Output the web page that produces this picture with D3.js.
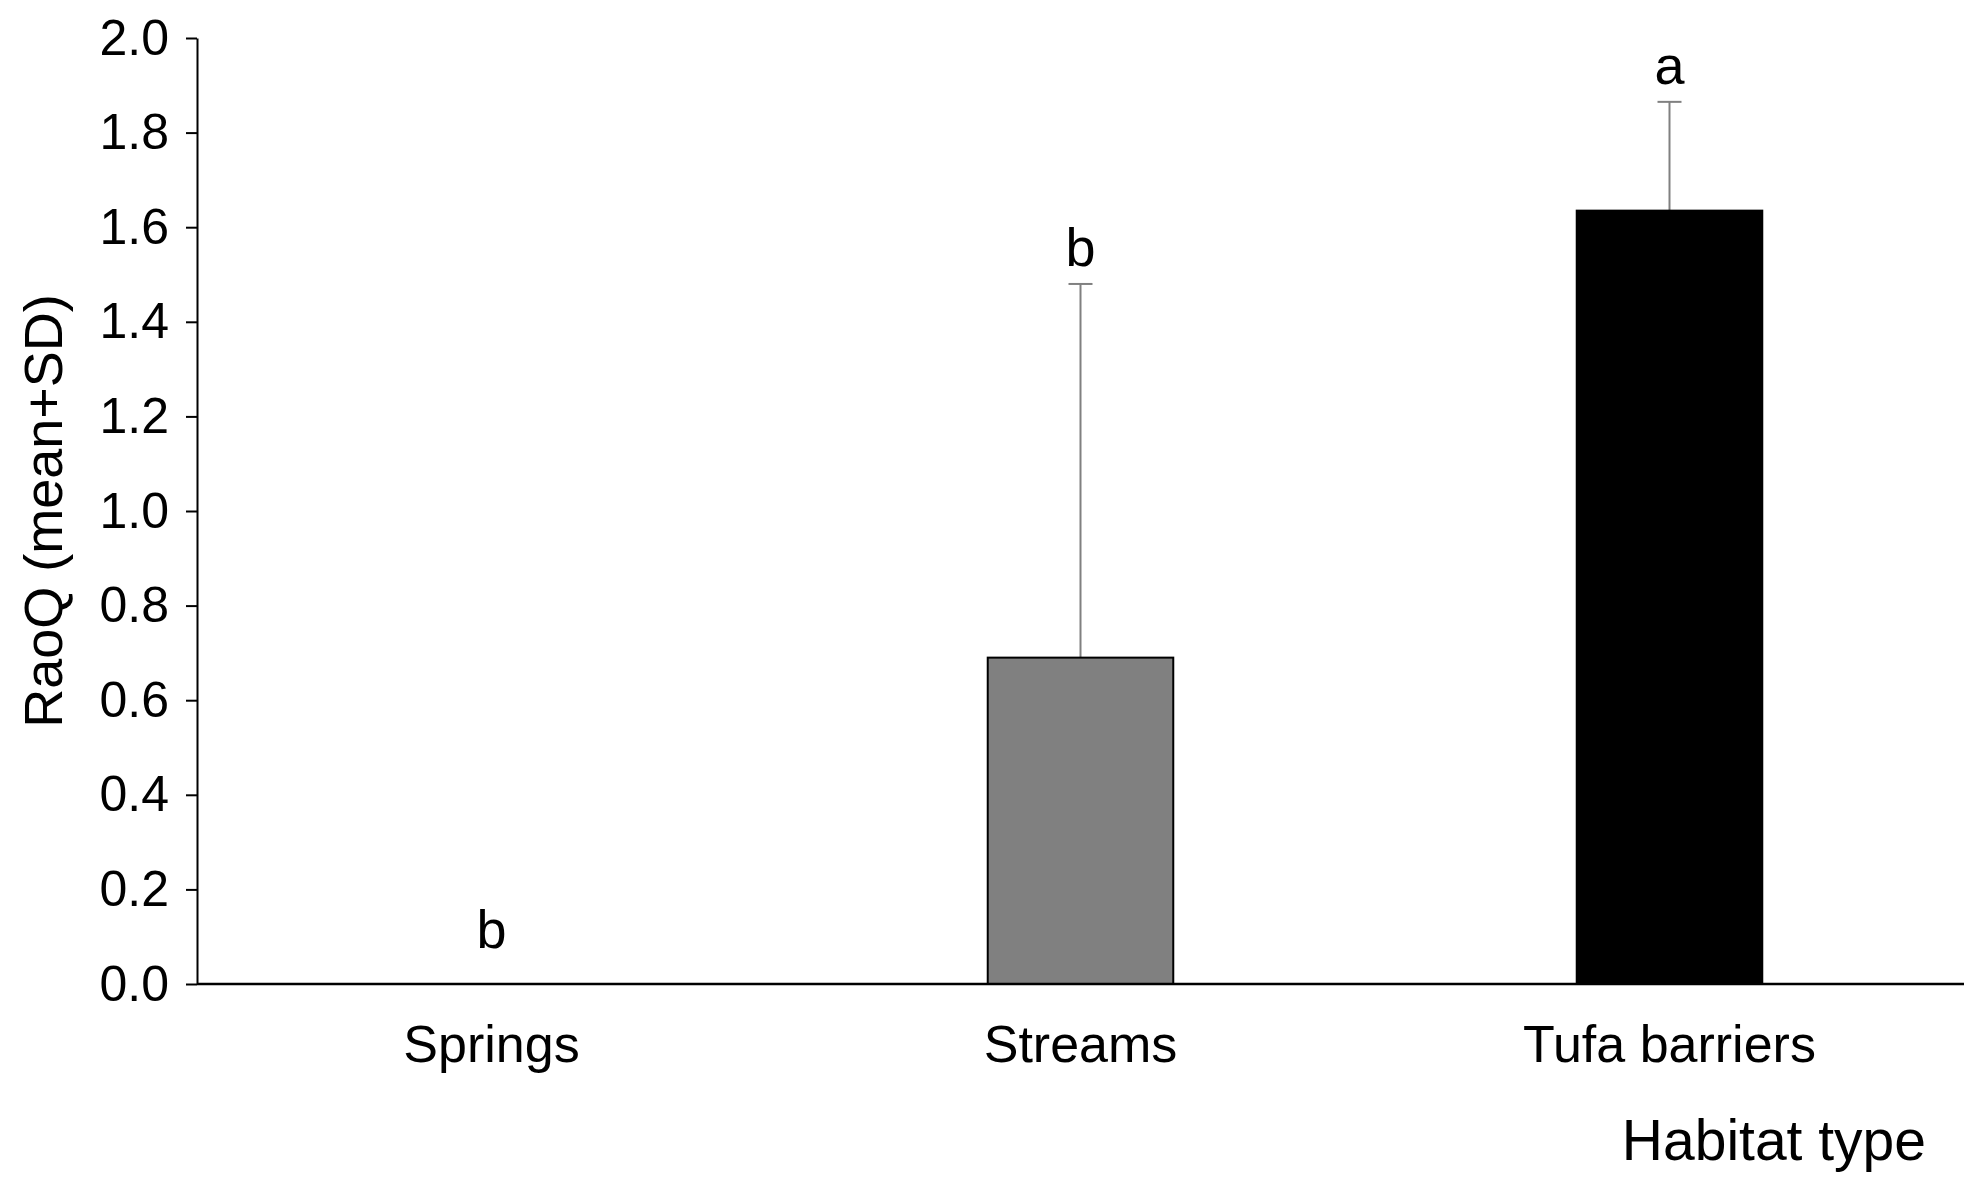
<!DOCTYPE html><html><head><meta charset="utf-8"><script src="https://cdn.jsdelivr.net/npm/d3@7"></script>
<style>body{margin:0;background:#fff}text{font-family:Arial,"Liberation Sans",sans-serif}</style></head><body>
<svg id="c" width="1983" height="1199"></svg>
<script>
const categories=["Springs","Streams","Tufa barriers"];
const means=[0,0.69,1.635];
const sds=[0,0.79,0.23];
const letters=["b","b","a"];
const colors=["#ffffff","#808080","#000000"];
const yTicks=[0,0.2,0.4,0.6,0.8,1.0,1.2,1.4,1.6,1.8,2.0];
const svg=d3.select("#c");
const L=197,R=1964,T=38,B=984;
const x=d3.scaleBand().domain(categories).range([L,R]).paddingInner(0.685).paddingOuter(0.3425);
const y=d3.scaleLinear().domain([0,2]).range([B,T]);
const ya=svg.append("g").attr("transform",`translate(${L},0)`).call(d3.axisLeft(y).tickValues(yTicks).tickFormat(d3.format(".1f")).tickSize(11).tickSizeOuter(0));
ya.selectAll("text").attr("font-size",50).attr("fill","#000").attr("dx",-14);
ya.selectAll("line,path").attr("stroke","#000").attr("stroke-width",2);
categories.forEach((c,i)=>{if(sds[i]>0){const cx=x(c)+x.bandwidth()/2;
svg.append("line").attr("x1",cx).attr("x2",cx).attr("y1",y(means[i])).attr("y2",y(means[i]+sds[i])).attr("stroke","#808080").attr("stroke-width",2);
svg.append("line").attr("x1",cx-12).attr("x2",cx+12).attr("y1",y(means[i]+sds[i])).attr("y2",y(means[i]+sds[i])).attr("stroke","#808080").attr("stroke-width",2);}});
svg.selectAll("rect.b").data(categories).join("rect").attr("x",d=>x(d)).attr("width",x.bandwidth())
 .attr("y",(d,i)=>y(means[i])).attr("height",(d,i)=>B-y(means[i])).attr("fill",(d,i)=>colors[i]).attr("stroke","#000").attr("stroke-width",2);
const xa=svg.append("g").attr("transform",`translate(0,${B})`).call(d3.axisBottom(x).tickSize(0).tickSizeOuter(0));
xa.select("path").attr("d",`M${L},0H${R}`).attr("stroke","#000").attr("stroke-width",2.5);
xa.selectAll("text").attr("font-size",52).attr("fill","#000").attr("dy",0).attr("y",78);
categories.forEach((c,i)=>{svg.append("text").attr("x",x(c)+x.bandwidth()/2).attr("y",y(means[i]+sds[i])-(i===0?36:18)).attr("text-anchor","middle").attr("font-size",54).text(letters[i]);});
svg.append("text").attr("x",1926).attr("y",1160).attr("text-anchor","end").attr("font-size",57).text("Habitat type");
svg.append("text").attr("transform",`translate(62,${(T+B)/2}) rotate(-90)`).attr("text-anchor","middle").attr("font-size",54).text("RaoQ (mean+SD)");
</script></body></html>
